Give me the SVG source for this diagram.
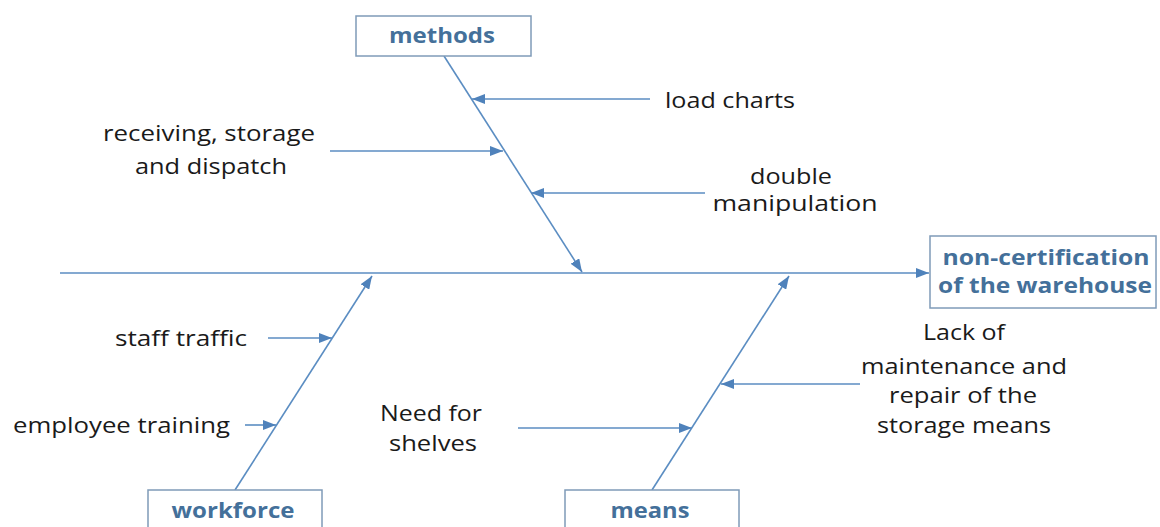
<svg xmlns="http://www.w3.org/2000/svg" width="1160" height="527" viewBox="0 0 1160 527">
<style>
.box{fill:#ffffff;stroke:#7f9bb8;stroke-width:1.5}
.lbl{font-family:"Open Sans","Liberation Sans",sans-serif;font-weight:bold;font-size:20.5px;fill:#44709a}
.t{font-family:"Open Sans","Liberation Sans",sans-serif;font-size:22px;fill:#1a1a1a}
.c{fill:none;stroke:#5b8dc2;stroke-width:1.6}
</style>
<defs>
<marker id="ah" markerUnits="userSpaceOnUse" markerWidth="13" markerHeight="10" refX="13" refY="5" orient="auto">
<path d="M0,0 L13,5 L0,10 z" fill="#4f82bb"/>
</marker>
</defs>
<g id="connectors">
<path class="c" d="M60,273 L929,273" marker-end="url(#ah)"/>
<path class="c" d="M444,56 L582,272" marker-end="url(#ah)"/>
<path class="c" d="M235,490 L372,276" marker-end="url(#ah)"/>
<path class="c" d="M652,490 L789,276" marker-end="url(#ah)"/>
<path class="c" d="M650,99 L472,99" marker-end="url(#ah)"/>
<path class="c" d="M330,151 L503,151" marker-end="url(#ah)"/>
<path class="c" d="M705,193 L531,193" marker-end="url(#ah)"/>
<path class="c" d="M268,338 L332,338" marker-end="url(#ah)"/>
<path class="c" d="M245,425 L276,425" marker-end="url(#ah)"/>
<path class="c" d="M518,428 L692,428" marker-end="url(#ah)"/>
<path class="c" d="M860,384 L721,384" marker-end="url(#ah)"/>
</g>
<g id="methods">
<rect class="box" x="356" y="16" width="175" height="40"/>
<text class="lbl" x="442" y="43" text-anchor="middle" textLength="106" lengthAdjust="spacingAndGlyphs">methods</text>
</g>
<g id="effect">
<rect class="box" x="930" y="236" width="226" height="72"/>
<text class="lbl" x="1046" y="265" text-anchor="middle" textLength="207" lengthAdjust="spacingAndGlyphs">non-certification</text>
<text class="lbl" x="1045" y="293" text-anchor="middle" textLength="214" lengthAdjust="spacingAndGlyphs">of the warehouse</text>
</g>
<g id="workforce">
<rect class="box" x="148" y="490" width="174" height="45"/>
<text class="lbl" x="233" y="518" text-anchor="middle" textLength="123" lengthAdjust="spacingAndGlyphs">workforce</text>
</g>
<g id="means">
<rect class="box" x="565" y="490" width="174" height="45"/>
<text class="lbl" x="650" y="518" text-anchor="middle" textLength="79" lengthAdjust="spacingAndGlyphs">means</text>
</g>
<g id="cause-load-charts">
<text class="t" x="665" y="108" textLength="130" lengthAdjust="spacingAndGlyphs">load charts</text>
</g>
<g id="cause-receiving">
<text class="t" x="209" y="141" text-anchor="middle" textLength="212" lengthAdjust="spacingAndGlyphs">receiving, storage</text>
<text class="t" x="211" y="174" text-anchor="middle" textLength="152" lengthAdjust="spacingAndGlyphs">and dispatch</text>
</g>
<g id="cause-double">
<text class="t" x="791" y="184" text-anchor="middle" textLength="82" lengthAdjust="spacingAndGlyphs">double</text>
<text class="t" x="795" y="211" text-anchor="middle" textLength="165" lengthAdjust="spacingAndGlyphs">manipulation</text>
</g>
<g id="cause-staff-traffic">
<text class="t" x="115" y="346" textLength="132" lengthAdjust="spacingAndGlyphs">staff traffic</text>
</g>
<g id="cause-employee-training">
<text class="t" x="13" y="433" textLength="217" lengthAdjust="spacingAndGlyphs">employee training</text>
</g>
<g id="cause-shelves">
<text class="t" x="431" y="421" text-anchor="middle" textLength="102" lengthAdjust="spacingAndGlyphs">Need for</text>
<text class="t" x="433" y="451" text-anchor="middle" textLength="88" lengthAdjust="spacingAndGlyphs">shelves</text>
</g>
<g id="cause-maintenance">
<text class="t" x="964" y="340" text-anchor="middle" textLength="82" lengthAdjust="spacingAndGlyphs">Lack of</text>
<text class="t" x="964" y="374" text-anchor="middle" textLength="206" lengthAdjust="spacingAndGlyphs">maintenance and</text>
<text class="t" x="963" y="403" text-anchor="middle" textLength="148" lengthAdjust="spacingAndGlyphs">repair of the</text>
<text class="t" x="964" y="433" text-anchor="middle" textLength="174" lengthAdjust="spacingAndGlyphs">storage means</text>
</g>
</svg>
